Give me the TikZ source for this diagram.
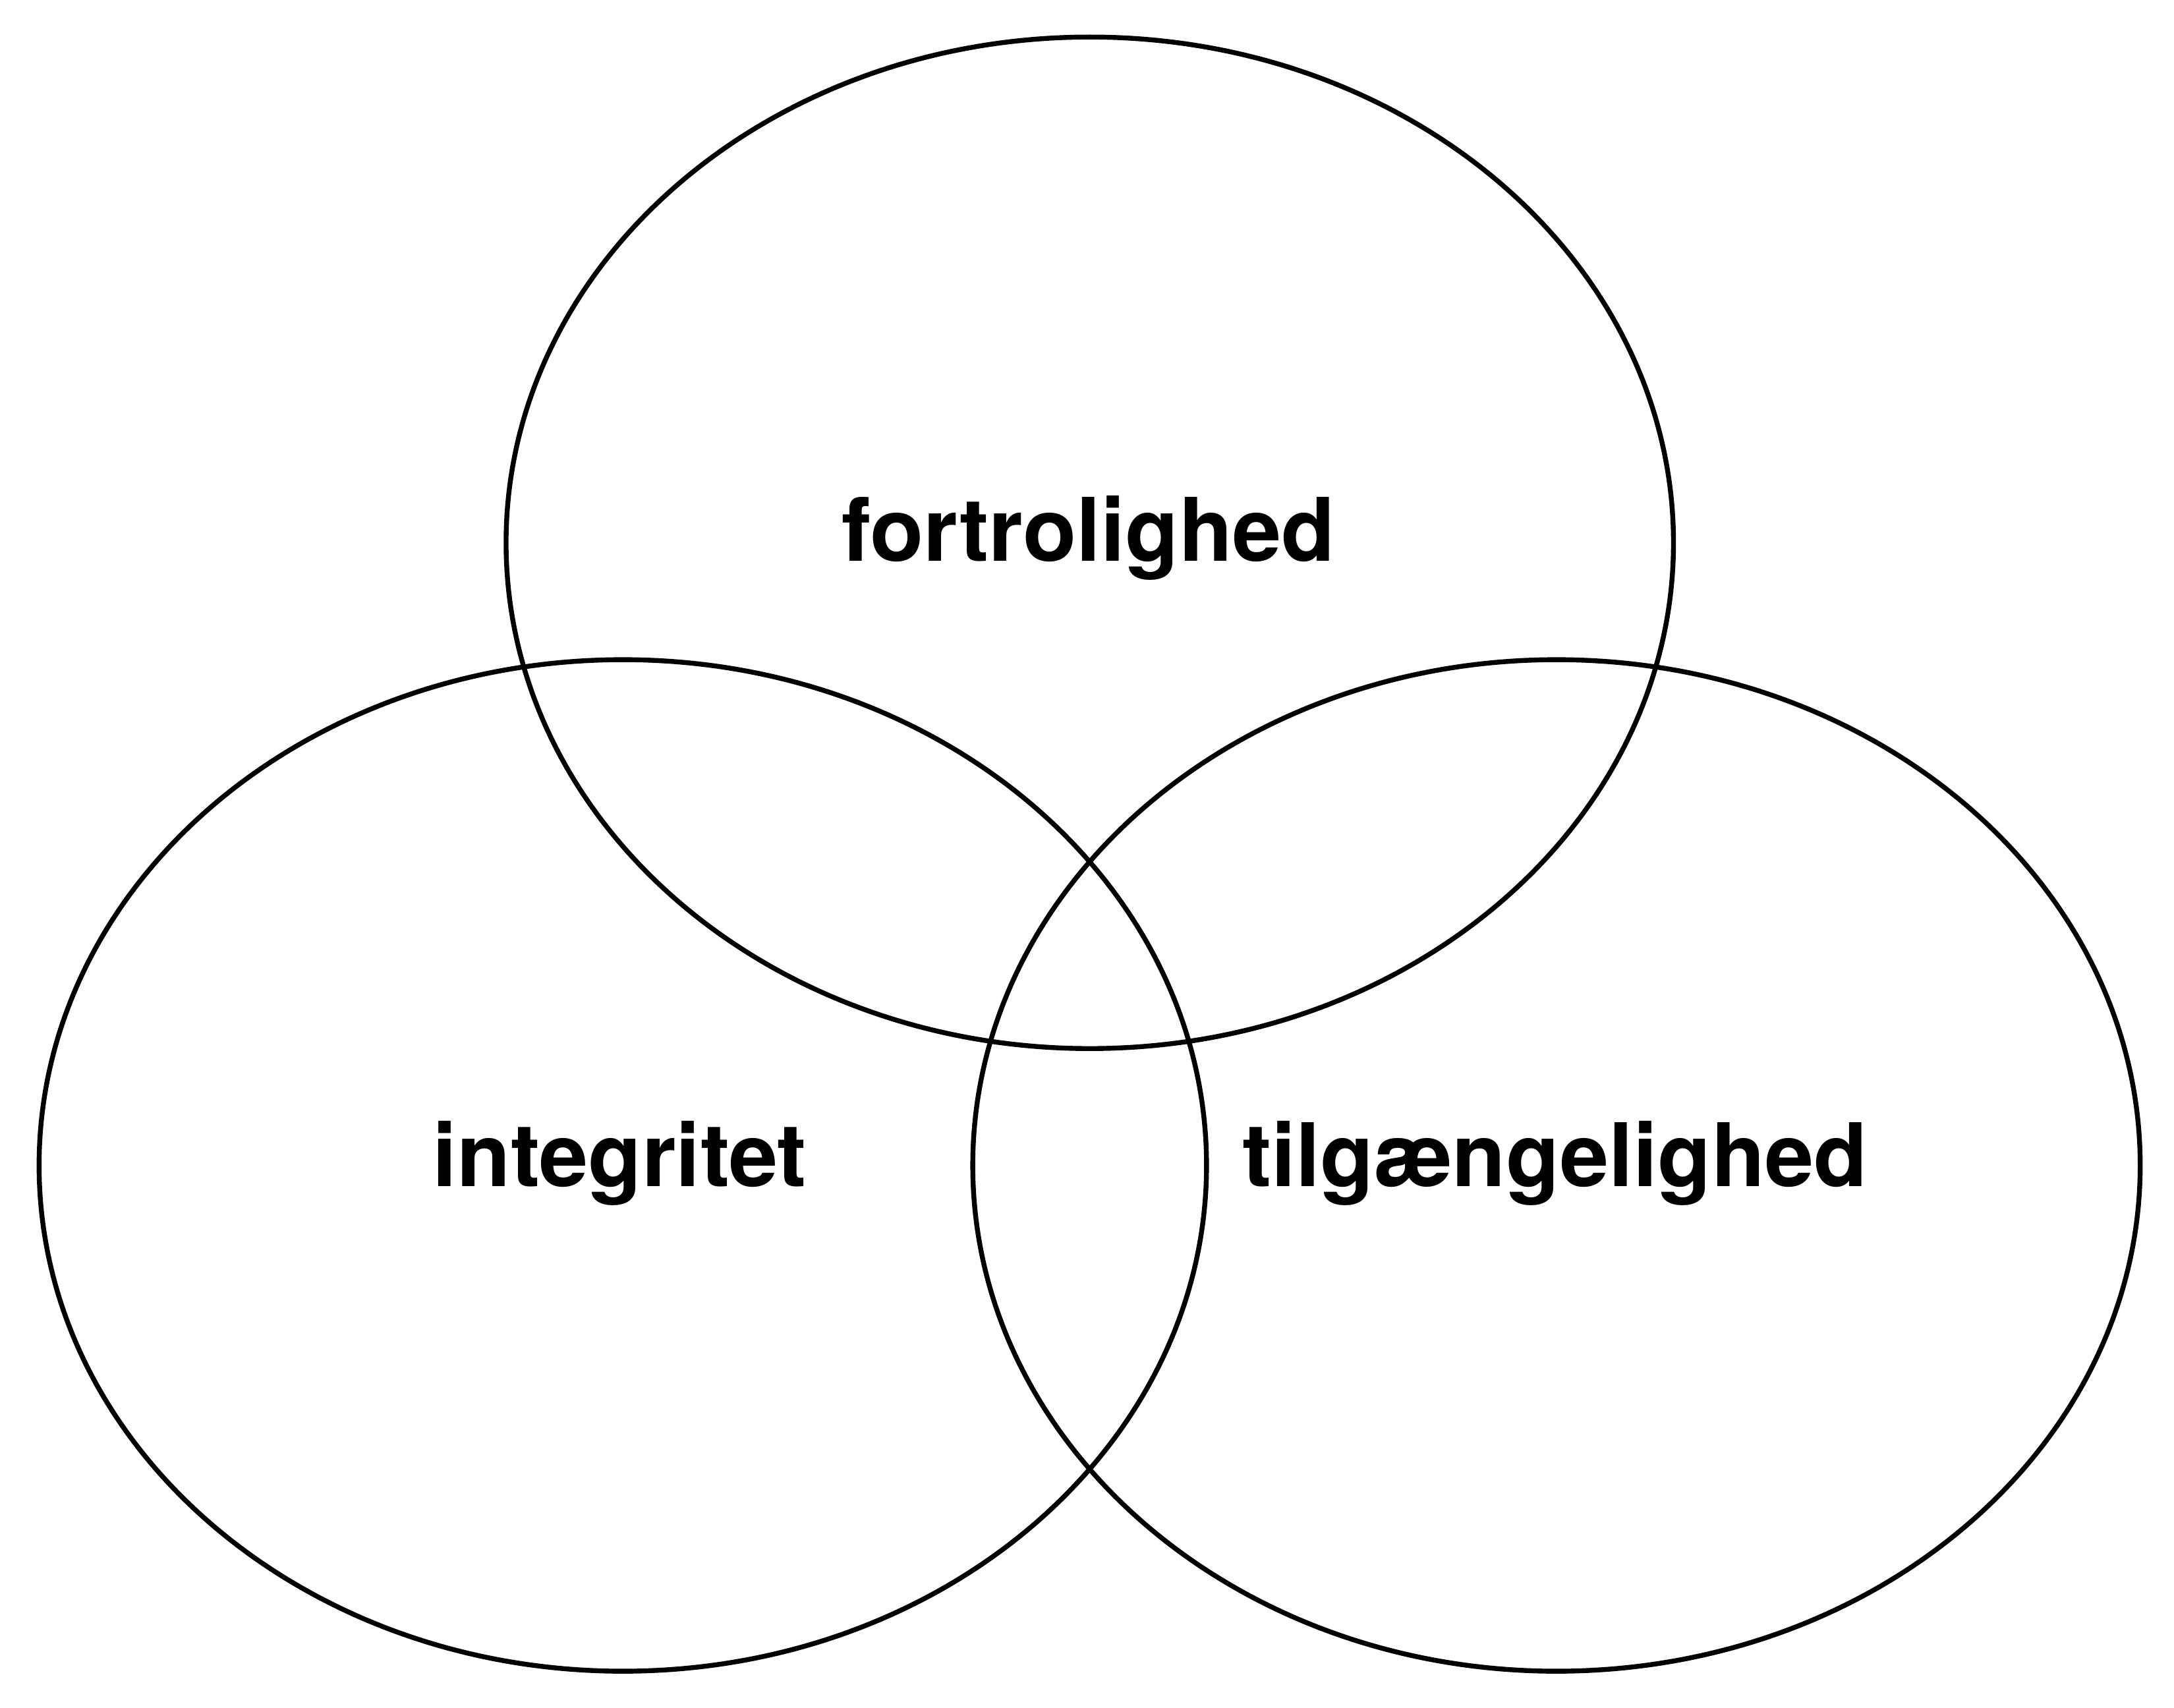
\documentclass[tikz,border=0pt]{standalone}
\usepackage{fontspec}
\setmainfont{TeX Gyre Heros}
\usetikzlibrary{shapes}

\tikzset{
  cirkel/.style={draw,ellipse,line width=1pt,inner sep=0pt,outer sep=0pt,
    minimum width=8.42cm,minimum height=7.296cm},
  etiket/.style={anchor=base,inner sep=0pt,font=\fontsize{18pt}{20pt}\selectfont\bfseries}
}

\begin{document}
\begin{tikzpicture}
				\useasboundingbox (0,0) rectangle (15.68,-12.315);
				% Cirkler
				\node [cirkel] (fort) at (7.86,-3.915) {};
				\node [cirkel] (integ) at (4.492,-8.406) {};
				\node [cirkel] (tilg) at (11.226,-8.406) {};
				% Tekster
				\node [etiket] (tfort) at (7.85,-4.045) {fortrolighed};
				\node [etiket] (tinteg) at (4.47,-8.559) {integritet};
				\node [etiket] (ttilg) at (11.215,-8.559) {tilgængelighed};
\end{tikzpicture}
\end{document}
